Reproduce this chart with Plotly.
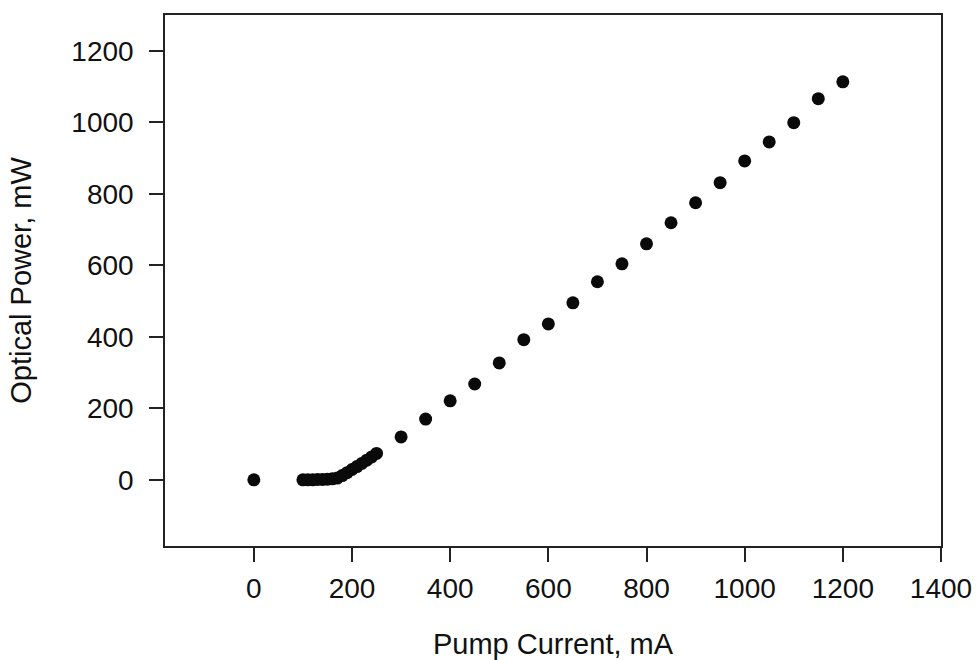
import plotly.graph_objects as go

pump_current_mA = [0, 100, 110, 120, 130, 140, 150, 160, 170, 180, 190, 200, 210, 220, 230, 240, 250,
                   300, 350, 400, 450, 500, 550, 600, 650, 700, 750, 800, 850, 900, 950, 1000,
                   1050, 1100, 1150, 1200]
optical_power_mW = [0, 0, 0, 0, 1, 1, 2, 3, 5, 12, 20, 29, 37, 46, 55, 64, 74,
                    120, 170, 221, 268, 327, 392, 436, 495, 554, 604, 660, 719, 775, 831, 892,
                    945, 999, 1066, 1113]

x_ticks = [0, 200, 400, 600, 800, 1000, 1200, 1400]
y_ticks = [0, 200, 400, 600, 800, 1000, 1200]

font_family = "Arial, 'Liberation Sans', sans-serif"

fig = go.Figure()
fig.add_trace(go.Scatter(
    x=pump_current_mA, y=optical_power_mW, mode="markers",
    marker=dict(color="#0a0a0a", size=13, line=dict(width=0)),
    showlegend=False,
))

axis_common = dict(
    showline=True, linecolor="#222222", linewidth=1.5, mirror=True,
    ticks="outside", ticklen=14, tickwidth=1.5, tickcolor="#222222",
    showgrid=False, zeroline=False,
    tickfont=dict(family=font_family, size=28, color="#111111"),
)

fig.update_layout(
    width=979, height=660,
    margin=dict(l=165, r=38, t=15, b=114),
    paper_bgcolor="white", plot_bgcolor="white",
    font=dict(family=font_family, color="#111111"),
    xaxis=dict(
        range=[-181, 1400], tickvals=x_ticks, ticktext=[str(v) for v in x_ticks],
        title=dict(text="Pump Current, mA", font=dict(size=29), standoff=30),
        ticklabelstandoff=3,
        automargin=False, **axis_common,
    ),
    yaxis=dict(
        range=[-185, 1300], tickvals=y_ticks, ticktext=[str(v) for v in y_ticks],
        title=dict(text="Optical Power, mW", font=dict(size=29), standoff=31),
        ticklabelstandoff=10,
        automargin=False, **axis_common,
    ),
)

fig.write_html("out.html", config={"displayModeBar": False},
               post_script="document.body.style.margin='0px';")
